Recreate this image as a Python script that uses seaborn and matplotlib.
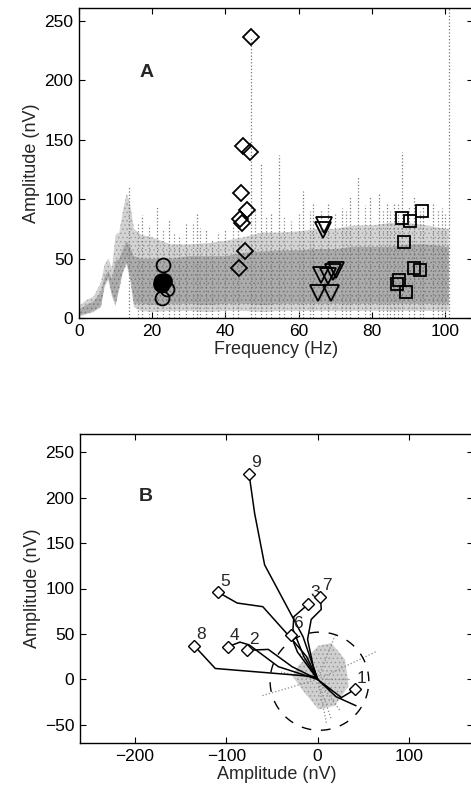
import numpy as np
import pandas as pd
import matplotlib
matplotlib.use("Agg")
import matplotlib.pyplot as plt
import seaborn as sns

# ---- panel A: spectrum background ----
freq_env = [0, 2, 4, 6, 7, 8, 9, 10, 11, 12, 13, 14, 15, 17, 20, 25, 30, 35, 40, 45,
            50, 55, 60, 65, 70, 75, 80, 85, 90, 95, 100, 101]
low_env = [1, 3, 5, 9, 26, 32, 18, 10, 24, 38, 45, 32, 9, 6, 5, 6, 6, 5, 6, 6,
           5, 6, 6, 6, 6, 6, 6, 6, 6, 6, 6, 6]
light_top = [10, 15, 18, 30, 45, 50, 42, 70, 72, 90, 105, 95, 75, 70, 68, 62, 62, 63, 65, 68,
             72, 72, 73, 75, 75, 78, 78, 80, 80, 78, 75, 75]
dense_low = [2, 4, 6, 10, 28, 34, 20, 12, 26, 40, 47, 34, 12, 12, 11, 12, 12, 11, 12, 12,
             11, 12, 12, 12, 12, 12, 12, 12, 12, 12, 12, 12]
dense_top = [7, 11, 14, 22, 35, 40, 33, 48, 50, 58, 65, 60, 52, 50, 50, 50, 52, 52, 52, 55,
             56, 57, 57, 58, 58, 60, 60, 60, 62, 62, 60, 60]

# tall dotted spikes
spike_f = [13.7, 17.3, 21.4, 24.6, 27.3, 29.1, 32.3, 34.6, 36.4, 40.0, 43.3, 49.6, 52.4,
           54.5, 61.3, 64.0, 68.0, 71.8, 74.0, 76.3, 79.5, 81.8, 84.0, 86.0, 88.2, 91.4,
           94.0, 96.8, 99.0]
spike_amp = [111, 87, 94, 83, 69, 79, 88, 74, 66, 74, 80, 130, 88,
             137, 107, 98, 97, 93, 102, 119, 102, 104, 98, 97, 140, 102,
             95, 98, 93]
# shorter spikes poking above the light band
short_f = [16, 19, 23, 26, 31, 33, 38, 42, 48, 51, 56, 58, 60, 63, 66, 70, 73, 78, 83,
           85, 87, 90, 93, 98, 100]
short_amp = [80, 78, 75, 72, 80, 76, 72, 78, 90, 85, 85, 82, 88, 90, 92, 88, 90, 95, 92,
             90, 96, 94, 90, 92, 88]

circ_f = [23.0, 22.6, 23.9, 22.8, 22.3]
circ_a = [45, 17, 24, 28, 31]
circ_fill_f = [22.5, 23.2]
circ_fill_a = [29, 31]
diam_f = [46.9, 44.7, 46.7, 44.2, 46.0, 43.9, 44.5, 45.3, 43.6]
diam_a = [237, 145, 140, 105, 91, 83, 80, 56, 42]
tri_f = [66.9, 66.6, 66.0, 67.9, 69.5, 70.3, 65.4, 68.9]
tri_a = [78, 74, 36, 35, 39, 40, 21, 21]
sq_f = [88.2, 90.5, 93.7, 88.8, 91.6, 93.0, 87.4, 86.9, 89.3]
sq_a = [84, 82, 90, 64, 42, 40, 32, 29, 22]

# ---- panel B: trajectories ----
tracks = {
    "9": ([-75, -69, -58, -16, 0], [226, 183, 126, 47, 0]),
    "5": ([-109, -88, -60, -28, -12, 0], [96, 84, 80, 44, 25, 0]),
    "8": ([-135, -112, -3, 0], [37, 12, 3, 0]),
    "4": ([-98, -85, -75, -43, 0], [36, 41, 38, 14, 0]),
    "2": ([-77, -54, -28, 0], [32, 33, 14, 0]),
    "6": ([-29, -26, -22, 0], [49, 40, 30, 0]),
    "3": ([-10, -26, -27, -15, 0], [83, 69, 55, 25, 0]),
    "7": ([3, 4, -7, -11, -5, 0], [91, 77, 66, 44, 15, 0]),
    "1": ([41, 26, 0, 20, 42], [-11, -20, 0, -19, -29]),
}
cloud_x = [-21, 1, 15, 30, 34, 19, 1, -14, -28]
cloud_y = [15, 37, 40, 22, -7, -29, -33, -15, 4]
spoke_x = [65, 19, -61, 15, 37, -40, 25, -20, 10]
spoke_y = [31, 48, -18, -44, 0, 8, -35, 30, -50]
circle_cx, circle_cy, circle_r = 2, -2, 54

sns.set_theme(style="ticks")
plt.rcParams["font.family"] = ["Liberation Sans", "DejaVu Sans"]
plt.rcParams["hatch.linewidth"] = 0.6

W, H = 471, 798
fig = plt.figure(figsize=(W / 100, H / 100), dpi=100)
fig.patch.set_facecolor("white")


def px_axes(left, right, top, bottom):
    return fig.add_axes([left / W, 1 - bottom / H, (right - left) / W, (bottom - top) / H])


def style(ax):
    ax.tick_params(direction="in", length=4, width=0.8, top=True, right=True,
                   labelsize=12.5, colors="black", pad=4)
    for s in ax.spines.values():
        s.set_linewidth(1.0)
        s.set_color("black")


# Panel A
axA = px_axes(79, 473, 8, 318)
axA.vlines(short_f, 0, short_amp, colors="#8c8c8c", linestyles=":", lw=0.9)
axA.fill_between(freq_env, low_env, light_top, facecolor="#d4d4d4", edgecolor="#a0a0a0",
                 hatch="....", lw=0)
axA.vlines(spike_f, 0, spike_amp, colors="#777777", linestyles=":", lw=0.9)
axA.fill_between(freq_env, dense_low, dense_top, facecolor="#acacac", edgecolor="#7a7a7a",
                 hatch="....", lw=0)
axA.vlines([47], 0, [237], colors="#777777", linestyles=":", lw=0.9)
axA.axvline(101, color="#777777", ls=":", lw=0.9)
mk = dict(ls="none", mfc="none", mec="black", mew=1.3)
axA.plot(circ_fill_f, circ_fill_a, marker="o", ms=11, ls="none", mfc="black", mec="black")
axA.plot(circ_f, circ_a, marker="o", ms=10, **mk)
axA.plot(diam_f, diam_a, marker="D", ms=8, **mk)
axA.plot(tri_f, tri_a, marker="v", ms=11, **mk)
axA.plot(sq_f, sq_a, marker="s", ms=8, **mk)
axA.set_xlim(0, 107.6)
axA.set_ylim(0, 261)
axA.set_xticks([0, 20, 40, 60, 80, 100])
axA.set_yticks([0, 50, 100, 150, 200, 250])
axA.set_xlabel("Frequency (Hz)", fontsize=13, labelpad=2)
axA.set_ylabel("Amplitude (nV)", fontsize=13, labelpad=3)
axA.text(18.5, 207, "A", fontsize=14, fontweight="bold", ha="center", va="center")
style(axA)

# Panel B
axB = px_axes(80, 473, 434, 743)
axB.fill(cloud_x, cloud_y, facecolor="#d0d0d0", edgecolor="#9a9a9a", hatch="....", lw=0)
for sx, sy in zip(spoke_x, spoke_y):
    axB.plot([0, sx], [0, sy], color="#8a8a8a", ls=":", lw=0.9)
theta = np.linspace(0, 2 * np.pi, 200)
axB.plot(circle_cx + circle_r * np.cos(theta), circle_cy + circle_r * np.sin(theta),
         color="black", lw=1.0, dashes=(7, 7))
rows = []
for name, (xs, ys) in tracks.items():
    for i, (x, y) in enumerate(zip(xs, ys)):
        rows.append({"track": name, "order": i, "x": x, "y": y})
df = pd.DataFrame(rows)
sns.lineplot(data=df, x="x", y="y", units="track", estimator=None, sort=False,
             color="black", lw=1.1, ax=axB)
for name, (xs, ys) in tracks.items():
    axB.plot(xs[0], ys[0], marker="D", ms=6, mfc="white", mec="black", mew=1.0, zorder=5)
    axB.text(xs[0] + 2, ys[0] + 4, name, fontsize=12.5, ha="left", va="bottom")
axB.set_xlim(-260, 170)
axB.set_ylim(-70, 270)
axB.set_xticks([-200, -100, 0, 100])
axB.set_xticklabels(["\u2212200", "\u2212100", "0", "100"])
axB.set_yticks([-50, 0, 50, 100, 150, 200, 250])
axB.set_yticklabels(["\u221250", "0", "50", "100", "150", "200", "250"])
axB.set_xlabel("Amplitude (nV)", fontsize=13, labelpad=2)
axB.set_ylabel("Amplitude (nV)", fontsize=13, labelpad=3)
axB.text(-188, 201, "B", fontsize=14, fontweight="bold", ha="center", va="center")
style(axB)

fig.savefig("out.png", dpi=100)
